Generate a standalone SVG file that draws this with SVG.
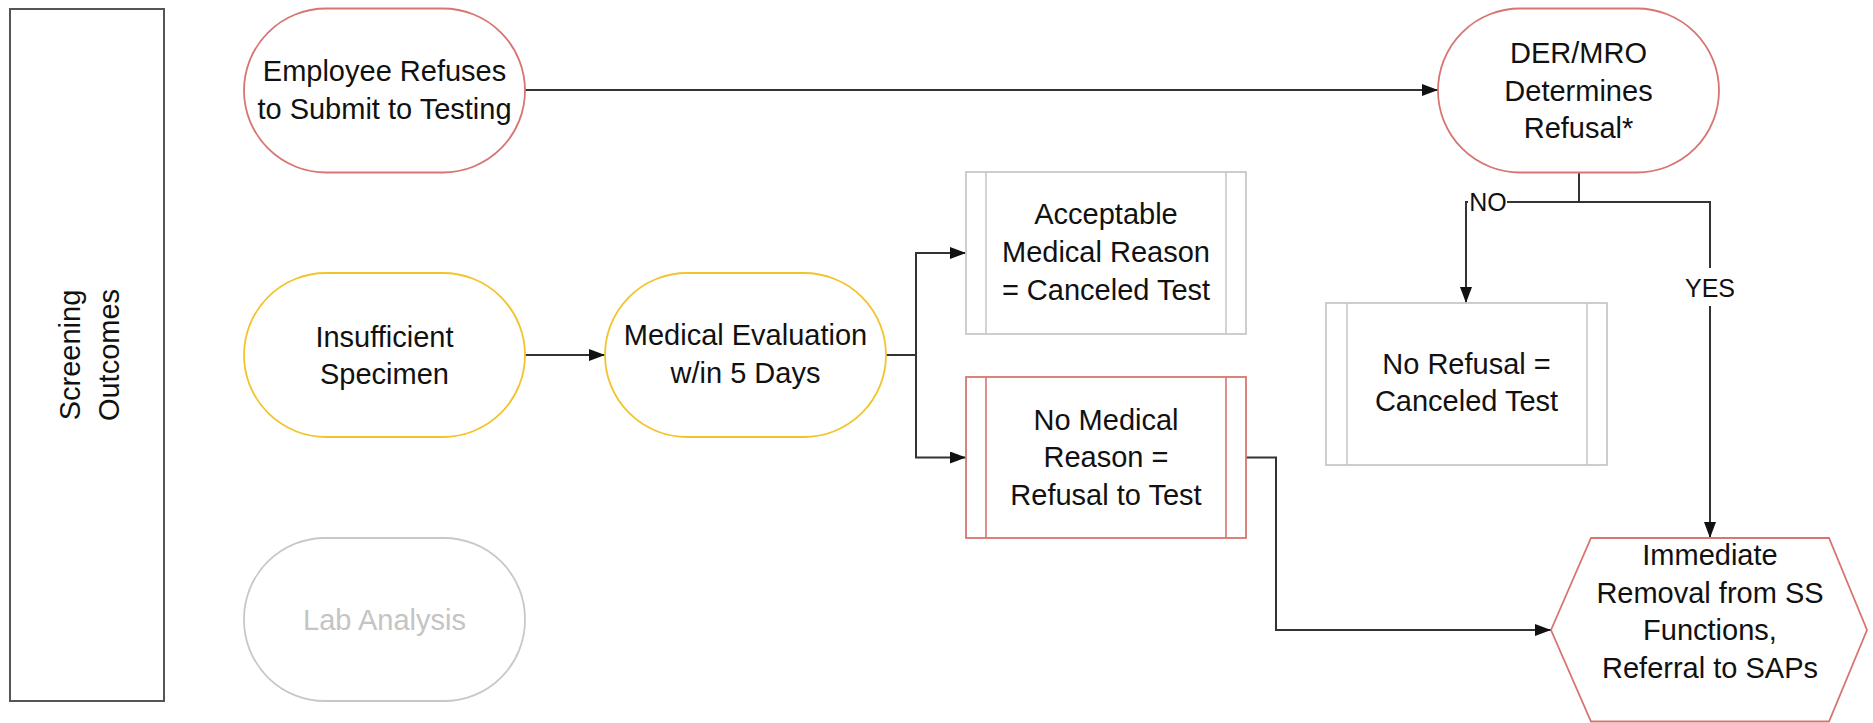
<svg xmlns="http://www.w3.org/2000/svg" width="1873" height="723" viewBox="0 0 1873 723">
<defs>
<style>
text{font-family:"Liberation Sans",Arial,sans-serif;font-size:29px;fill:#111;text-anchor:middle}
.red{fill:#fff;stroke:#d87572;stroke-width:1.8}
.yel{fill:#fff;stroke:#f2c42c;stroke-width:1.8}
.gry{fill:#fff;stroke:#c8c8c8;stroke-width:1.8}
.redl{stroke:#d87572;stroke-width:1.6}
.gryl{stroke:#c8c8c8;stroke-width:1.6}
.lane{fill:#fff;stroke:#555;stroke-width:2}
.conn{fill:none;stroke:#333;stroke-width:2}
.lbl{font-size:25px}
.faint{fill:#c4c4c4}
</style>
<marker id="arr" viewBox="0 0 16 12" refX="16" refY="6" markerWidth="16" markerHeight="12" markerUnits="userSpaceOnUse" orient="auto">
<path d="M0,0 L16,6 L0,12 z" fill="#111"/>
</marker>
</defs>

<g id="lane">
<rect class="lane" x="10" y="9" width="154" height="692"/>
<text transform="translate(80,355) rotate(-90)">Screening</text>
<text transform="translate(118.5,355) rotate(-90)">Outcomes</text>
</g>

<g id="connectors">
<path class="conn" d="M525,90 H1438" marker-end="url(#arr)"/>
<path class="conn" d="M525,355 H605" marker-end="url(#arr)"/>
<path class="conn" d="M886,355 H916 V253 H966" marker-end="url(#arr)"/>
<path class="conn" d="M916,355 V457.5 H966" marker-end="url(#arr)"/>
<path class="conn" d="M1246,457.5 H1276 V630 H1551" marker-end="url(#arr)"/>
<path class="conn" d="M1579,172.5 V202 H1466 V303" marker-end="url(#arr)"/>
<path class="conn" d="M1579,202 H1710 V538" marker-end="url(#arr)"/>
<rect x="1468" y="189" width="39" height="25" fill="#fff"/>
<text class="lbl" x="1488" y="211">NO</text>
<rect x="1686" y="268" width="48" height="38" fill="#fff"/>
<text class="lbl" x="1710" y="297">YES</text>
</g>

<g id="employee-refuses">
<rect class="red" x="244" y="8.5" width="281" height="164" rx="82"/>
<text x="384.5" y="81">Employee Refuses</text>
<text x="384.5" y="119">to Submit to Testing</text>
</g>

<g id="der-mro">
<rect class="red" x="1438" y="8.5" width="281" height="164" rx="82"/>
<text x="1578.5" y="62.5">DER/MRO</text>
<text x="1578.5" y="100.5">Determines</text>
<text x="1578.5" y="138">Refusal*</text>
</g>

<g id="insufficient-specimen">
<rect class="yel" x="244" y="273" width="281" height="164" rx="82"/>
<text x="384.5" y="346.5">Insufficient</text>
<text x="384.5" y="384">Specimen</text>
</g>

<g id="medical-evaluation">
<rect class="yel" x="605" y="273" width="281" height="164" rx="82"/>
<text x="745.5" y="345">Medical Evaluation</text>
<text x="745.5" y="382.5">w/in 5 Days</text>
</g>

<g id="lab-analysis">
<rect class="gry" x="244" y="538" width="281" height="163" rx="81"/>
<text class="faint" x="384.5" y="630">Lab Analysis</text>
</g>

<g id="acceptable-medical-reason">
<rect class="gry" x="966" y="172" width="280" height="162"/>
<line class="gryl" x1="986" y1="172" x2="986" y2="334"/>
<line class="gryl" x1="1226" y1="172" x2="1226" y2="334"/>
<text x="1106" y="223.5">Acceptable</text>
<text x="1106" y="261.5">Medical Reason</text>
<text x="1106" y="299.5">= Canceled Test</text>
</g>

<g id="no-medical-reason">
<rect class="red" x="966" y="377" width="280" height="161"/>
<line class="redl" x1="986" y1="377" x2="986" y2="538"/>
<line class="redl" x1="1226" y1="377" x2="1226" y2="538"/>
<text x="1106" y="429.5">No Medical</text>
<text x="1106" y="467">Reason =</text>
<text x="1106" y="504.5">Refusal to Test</text>
</g>

<g id="no-refusal">
<rect class="gry" x="1326" y="303" width="281" height="162"/>
<line class="gryl" x1="1347" y1="303" x2="1347" y2="465"/>
<line class="gryl" x1="1587" y1="303" x2="1587" y2="465"/>
<text x="1466.5" y="373.5">No Refusal =</text>
<text x="1466.5" y="411">Canceled Test</text>
</g>

<g id="immediate-removal">
<polygon class="red" points="1551,630 1591,538 1829,538 1867,630 1829,721.5 1591,721.5"/>
<text x="1710" y="565">Immediate</text>
<text x="1710" y="602.5">Removal from SS</text>
<text x="1710" y="640">Functions,</text>
<text x="1710" y="677.5">Referral to SAPs</text>
</g>
</svg>
